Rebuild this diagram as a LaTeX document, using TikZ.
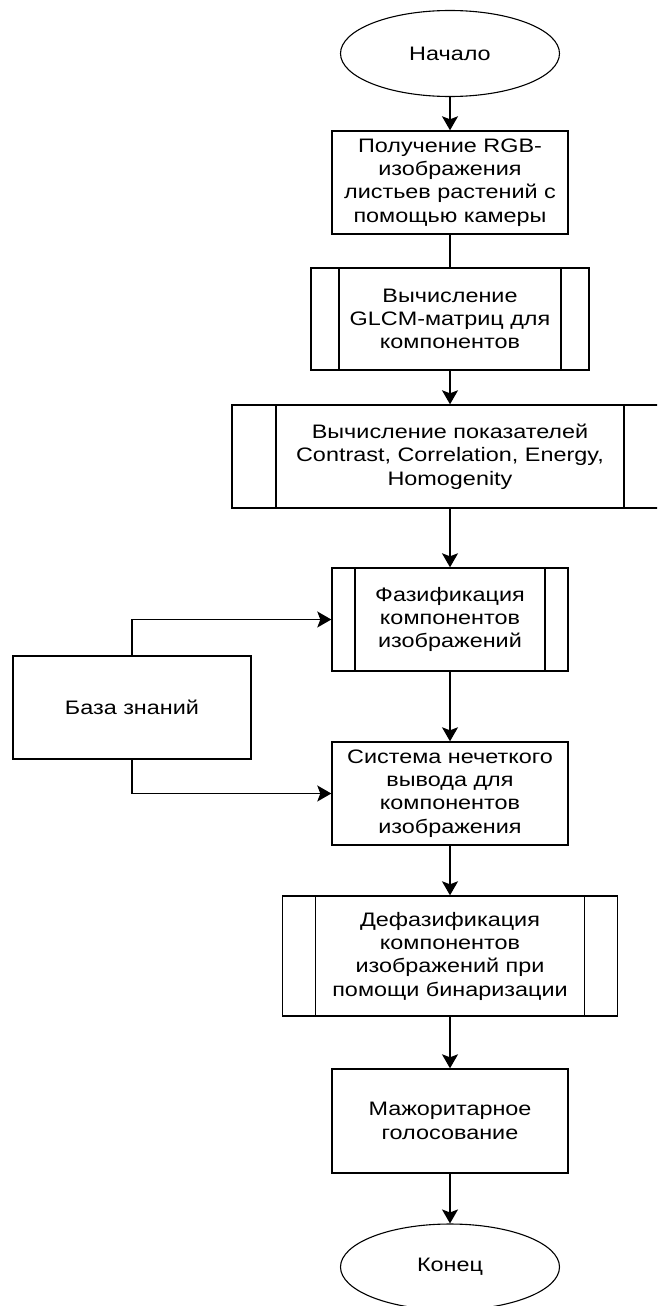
\documentclass[tikz,border=0pt]{standalone}
\usepackage{fontspec}
\setmainfont{Liberation Sans}[FakeStretch=1.2]
\usetikzlibrary{shapes.geometric,arrows.meta}

\tikzset{
  every node/.style={font=\fontsize{19.5pt}{23.3pt}\selectfont, align=center, text=black},
  box/.style={draw=black, line width=1.4pt, rectangle, inner sep=0pt, fill=white},
  terminal/.style={draw=black, line width=1.1pt, ellipse, inner sep=0pt,
    minimum width=219pt, minimum height=86pt, fill=white},
  subproc/.style={box, path picture={
      \draw[line width=1.4pt]
        ([xshift=#1]path picture bounding box.north west) --
        ([xshift=#1]path picture bounding box.south west)
        ([xshift=-#1]path picture bounding box.north east) --
        ([xshift=-#1]path picture bounding box.south east);}},
  flow/.style={draw=black, line width=1.4pt},
  arr/.style={flow, -{Stealth[length=14pt, width=16pt, inset=3pt]}}
}

\begin{document}
\begin{tikzpicture}[x=1pt, y=-1pt]
  % page frame
  \useasboundingbox (0,0) rectangle (657,1306);
  \fill[white] (0,0) rectangle (657,1306);
  \clip (0,0) rectangle (657,1306);

  % main column
  \node[terminal] (start) at (450,53.5) {Начало};
  \node[box, minimum width=236pt, minimum height=103pt] (capture) at (450,182.5)
    {Получение RGB-\\изображения\\листьев растений с\\помощью камеры};
  \node[subproc=28pt, minimum width=278pt, minimum height=102pt] (glcm) at (450,319)
    {Вычисление\\GLCM-матриц для\\компонентов};
  \node[subproc=44pt, minimum width=436pt, minimum height=103pt] (features) at (450,456.5)
    {Вычисление показателей\\Contrast, Correlation, Energy,\\Homogenity};
  \node[subproc=23pt, minimum width=236pt, minimum height=103pt] (fuzz) at (450,619.5)
    {Фазификация\\компонентов\\изображений};
  \node[box, minimum width=238pt, minimum height=103pt] (kb) at (132,707.5)
    {База знаний};
  \node[box, minimum width=236pt, minimum height=103pt] (infer) at (450,793.5)
    {Система нечеткого\\вывода для\\компонентов\\изображения};
  \node[subproc=33pt, minimum width=335pt, minimum height=120pt] (defuzz) at (450,956)
    {Дефазификация\\компонентов\\изображений при\\помощи бинаризации};
  \node[box, minimum width=236pt, minimum height=104pt] (vote) at (450,1121)
    {Мажоритарное\\голосование};
  \node[terminal] (stop) at (450,1267) {Конец};

  % connectors
  \draw[arr] (start) -- (capture);
  \draw[flow] (capture) -- (glcm);
  \draw[arr] (glcm) -- (features);
  \draw[arr] (features) -- (fuzz);
  \draw[arr] (fuzz) -- (infer);
  \draw[arr] (infer) -- (defuzz);
  \draw[arr] (defuzz) -- (vote);
  \draw[arr] (vote) -- (stop);
  \draw[arr] (kb.north) |- (fuzz.west);
  \draw[arr] (kb.south) |- (infer.west);
\end{tikzpicture}
\end{document}
